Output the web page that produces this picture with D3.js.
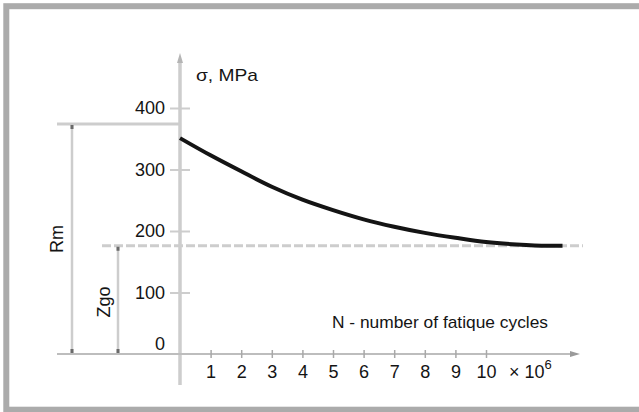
<!DOCTYPE html>
<html>
<head>
<meta charset="utf-8">
<script src="https://cdn.jsdelivr.net/npm/d3@7"></script>
<style>
  html, body { margin: 0; padding: 0; background: #fff; }
  svg { display: block; font-family: "Liberation Sans", Arial, sans-serif; }
</style>
</head>
<body>
<div id="chart"></div>
<script>
// fatigue curve
const cycles = [0, 1, 2, 3, 4, 5, 6, 7, 8, 9, 10, 11, 12, 12.5];
const stress = [351, 323, 297, 272, 251, 234, 219, 207, 197, 189, 182, 178, 176, 176];

const xTicks = [1, 2, 3, 4, 5, 6, 7, 8, 9, 10];
const yTicks = [0, 100, 200, 300, 400];

const Rm = 374;
const Zgo = 176;

const W = 639, H = 412;
const ink = '#141414';
const axisGrey = '#cdcdcd';

const svg = d3.select('#chart').append('svg')
  .attr('width', W)
  .attr('height', H)
  .attr('viewBox', `0 0 ${W} ${H}`);

// frame (right edge falls off the picture)
svg.append('rect')
  .attr('x', 6.3).attr('y', 6.2)
  .attr('width', 700).attr('height', 403.5)
  .attr('fill', '#fff')
  .attr('stroke', '#ababab')
  .attr('stroke-width', 6);

const x = d3.scaleLinear().domain([0, 10]).range([180, 486]);
const y = d3.scaleLinear().domain([0, 400]).range([354, 108]);

// Rm / Zgo guide lines
const guides = svg.append('g').attr('stroke', axisGrey).attr('fill', 'none');
guides.append('line')
  .attr('x1', 57).attr('x2', x(0))
  .attr('y1', y(Rm)).attr('y2', y(Rm))
  .attr('stroke-width', 3);
guides.append('line')
  .attr('x1', 72).attr('x2', 72)
  .attr('y1', y(Rm)).attr('y2', y(0))
  .attr('stroke-width', 2.5);
guides.append('line')
  .attr('x1', 118).attr('x2', 118)
  .attr('y1', y(Zgo)).attr('y2', y(0))
  .attr('stroke-width', 2.5);
guides.append('line')
  .attr('x1', 102).attr('x2', 583)
  .attr('y1', y(Zgo)).attr('y2', y(Zgo))
  .attr('stroke-width', 3)
  .attr('stroke-dasharray', '9,3');

// little end marks on the dimension lines
const marks = [[72, y(Rm) + 3], [72, y(0) - 3], [118, y(Zgo) + 3], [118, y(0) - 3]];
svg.append('g').selectAll('rect').data(marks).join('rect')
  .attr('x', d => d[0] - 1.5).attr('y', d => d[1] - 2)
  .attr('width', 3).attr('height', 4)
  .attr('fill', '#6a6a6a');

// axes lines
svg.append('line')
  .attr('x1', x(0)).attr('x2', x(0))
  .attr('y1', 60).attr('y2', 385)
  .attr('stroke', axisGrey).attr('stroke-width', 3.5);
svg.append('path')
  .attr('d', `M${x(0) - 3},${63} L${x(0)},${53} L${x(0) + 3},${63} Z`)
  .attr('fill', '#b5b5b5');

svg.append('line')
  .attr('x1', 57).attr('x2', 572)
  .attr('y1', y(0)).attr('y2', y(0))
  .attr('stroke', '#bdbdbd').attr('stroke-width', 2);
svg.append('path')
  .attr('d', `M${570},${y(0) - 3} L${580},${y(0)} L${570},${y(0) + 3} Z`)
  .attr('fill', '#9a9a9a');

// y axis ticks and labels
const yAxis = svg.append('g')
  .attr('transform', `translate(${x(0) + 10},0)`)
  .call(d3.axisLeft(y).tickValues(yTicks).tickSize(20).tickPadding(5));
yAxis.select('.domain').remove();
yAxis.selectAll('.tick line')
  .attr('stroke', axisGrey).attr('stroke-width', 2)
  .style('display', d => d === 0 ? 'none' : null);
yAxis.selectAll('.tick text')
  .attr('fill', ink)
  .style('font-size', '18px')
  .attr('y', d => d === 0 ? -10 : 0);

// x axis ticks and labels
const xAxis = svg.append('g')
  .attr('transform', `translate(0,${y(0) - 4})`)
  .call(d3.axisBottom(x).tickValues(xTicks).tickSize(8).tickPadding(7));
xAxis.select('.domain').remove();
xAxis.selectAll('.tick line').attr('stroke', '#a8a8a8').attr('stroke-width', 1.5);
xAxis.selectAll('.tick text').attr('fill', ink).style('font-size', '18px');

// the curve
const pts = cycles.map((c, i) => [c, stress[i]]);
svg.append('path')
  .datum(pts)
  .attr('fill', 'none')
  .attr('stroke', ink)
  .attr('stroke-width', 4)
  .attr('stroke-linecap', 'butt')
  .attr('d', d3.line().x(d => x(d[0])).y(d => y(d[1])).curve(d3.curveMonotoneX));

// text labels
const txt = svg.append('g').attr('fill', ink).style('font-size', '17px');
txt.append('text').attr('x', 196).attr('y', 81)
  .attr('textLength', 62).attr('lengthAdjust', 'spacingAndGlyphs')
  .text('σ, MPa');
txt.append('text').attr('x', 332).attr('y', 328)
  .attr('textLength', 216).attr('lengthAdjust', 'spacingAndGlyphs')
  .text('N - number of fatique cycles');
const mult = txt.append('text').attr('x', 509).attr('y', 378).style('font-size', '18px');
mult.append('tspan').text('× 10');
mult.append('tspan').attr('dy', -9).style('font-size', '13px').text('6');

txt.append('text')
  .attr('transform', 'translate(63,239) rotate(-90)')
  .attr('text-anchor', 'middle')
  .style('font-size', '18px')
  .text('Rm');
txt.append('text')
  .attr('transform', 'translate(110,302) rotate(-90)')
  .attr('text-anchor', 'middle')
  .style('font-size', '18px')
  .text('Zgo');
</script>
</body>
</html>
